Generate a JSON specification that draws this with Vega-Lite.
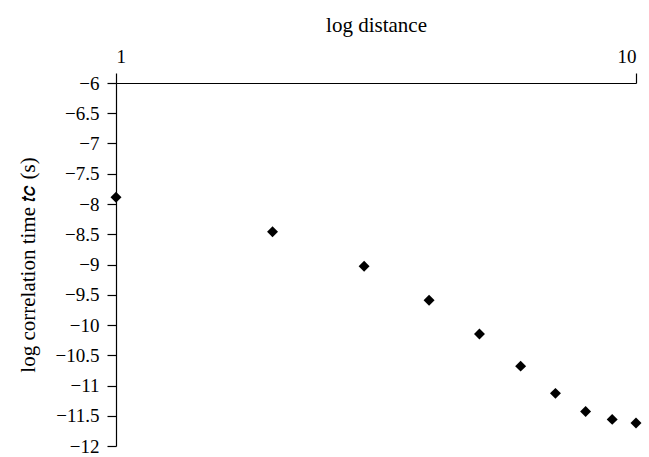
{
  "$schema": "https://vega.github.io/schema/vega-lite/v6.json",
  "width": 520,
  "height": 363,
  "autosize": "none",
  "padding": {"left": 116, "top": 83, "right": 13, "bottom": 11},
  "background": "white",
  "config": {
    "view": {"stroke": null},
    "font": "Liberation Serif",
    "axis": {
      "domainColor": "black",
      "tickColor": "black",
      "labelColor": "black",
      "titleColor": "black",
      "labelFont": "Liberation Serif",
      "titleFont": "Liberation Serif",
      "labelFontSize": 19,
      "titleFontSize": 21,
      "titleFontWeight": "normal",
      "grid": false,
      "domainWidth": 1.2,
      "tickWidth": 1.2
    }
  },
  "data": {
    "values": [
      {"distance": 1, "logtime": -7.89},
      {"distance": 2, "logtime": -8.46},
      {"distance": 3, "logtime": -9.03},
      {"distance": 4, "logtime": -9.59},
      {"distance": 5, "logtime": -10.15},
      {"distance": 6, "logtime": -10.68},
      {"distance": 7, "logtime": -11.13},
      {"distance": 8, "logtime": -11.43},
      {"distance": 9, "logtime": -11.56},
      {"distance": 10, "logtime": -11.62}
    ]
  },
  "mark": {"type": "point", "shape": "diamond", "filled": true, "color": "black", "size": 120, "opacity": 1},
  "encoding": {
    "x": {
      "field": "distance",
      "type": "quantitative",
      "scale": {"type": "log", "domain": [1, 10], "nice": false},
      "axis": {
        "orient": "top",
        "values": [1, 10],
        "format": "d",
        "title": "log distance",
        "tickSize": 10,
        "labelPadding": 7,
        "titlePadding": 12
      }
    },
    "y": {
      "field": "logtime",
      "type": "quantitative",
      "scale": {"domain": [-12, -6], "nice": false, "zero": false},
      "axis": {
        "values": [-6, -6.5, -7, -7.5, -8, -8.5, -9, -9.5, -10, -10.5, -11, -11.5, -12],
        "format": "~g",
        "title": "log correlation time 𝑡𝑐 (s)",
        "tickSize": 9,
        "labelPadding": 8,
        "titlePadding": 17
      }
    }
  }
}
